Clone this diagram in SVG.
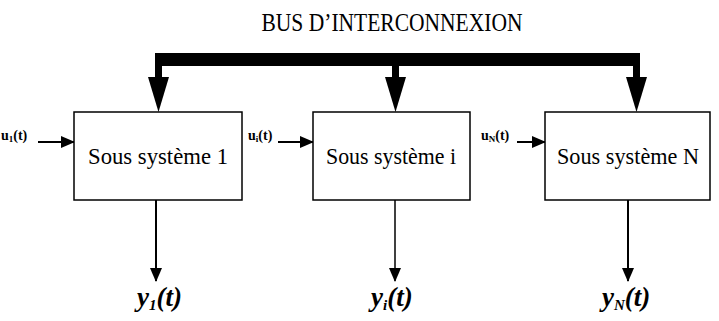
<svg xmlns="http://www.w3.org/2000/svg" width="719" height="321" viewBox="0 0 719 321">
<style>
.box{fill:#fff;stroke:#000;stroke-width:1.5}
.lbl{font-family:"Liberation Serif",serif;font-size:23px;fill:#000}
.ttl{font-family:"Liberation Serif",serif;font-size:25px;fill:#000}
.in{font-family:"Liberation Serif",serif;font-size:14px;font-weight:bold;fill:#000}
.isub{font-size:9px}
.out{font-family:"Liberation Serif",serif;font-size:27px;font-weight:bold;font-style:italic;fill:#000}
.sub{font-size:15px}
.ln{stroke:#000;stroke-width:2;fill:none}
</style>
<defs>
<marker id="ah" markerWidth="14" markerHeight="12" refX="13" refY="6" orient="auto" markerUnits="userSpaceOnUse">
<path d="M0,0 L14,6 L0,12 Z" fill="#000"/>
</marker>
</defs>
<rect width="719" height="321" fill="#fff"/>
<text x="392" y="31" text-anchor="middle" class="ttl" textLength="261" lengthAdjust="spacingAndGlyphs">BUS D’INTERCONNEXION</text>
<g id="connectors">
<path d="M156,53 H640 V66 H156 Z" fill="#000"/>
<rect x="155" y="53" width="7" height="26" fill="#000"/>
<path d="M148,77 L169,77 L158.5,112 Z" fill="#000"/>
<rect x="392" y="60" width="7" height="19" fill="#000"/>
<path d="M385,77 L406,77 L395.5,112 Z" fill="#000"/>
<rect x="633" y="60" width="7" height="19" fill="#000"/>
<path d="M626,77 L647,77 L636.5,112 Z" fill="#000"/>
<line class="ln" x1="38" y1="142" x2="74" y2="142" marker-end="url(#ah)"/>
<line class="ln" x1="278" y1="142" x2="313" y2="142" marker-end="url(#ah)"/>
<line class="ln" x1="517" y1="142" x2="545" y2="142" marker-end="url(#ah)"/>
<line class="ln" x1="156" y1="200" x2="156" y2="281" marker-end="url(#ah)"/>
<line x1="395" y1="200" x2="395" y2="281" stroke="#000" stroke-width="1.5" marker-end="url(#ah)"/>
<line class="ln" x1="628" y1="200" x2="628" y2="281" marker-end="url(#ah)"/>
</g>
<g id="node1">
<rect class="box" x="74" y="112" width="168" height="88"/>
<text x="158" y="164" text-anchor="middle" class="lbl" textLength="140" lengthAdjust="spacingAndGlyphs">Sous système 1</text>
</g>
<g id="node2">
<rect class="box" x="313" y="112" width="157" height="88"/>
<text x="391" y="164" text-anchor="middle" class="lbl" textLength="130" lengthAdjust="spacingAndGlyphs">Sous système i</text>
</g>
<g id="node3">
<rect class="box" x="545" y="112" width="165" height="88"/>
<text x="628" y="164" text-anchor="middle" class="lbl" textLength="142" lengthAdjust="spacingAndGlyphs">Sous système N</text>
</g>
<g id="inputs">
<text x="1" y="140" class="in">u<tspan class="isub" dy="2">1</tspan><tspan dy="-2">(t)</tspan></text>
<text x="248" y="140" class="in">u<tspan class="isub" dy="2">i</tspan><tspan dy="-2">(t)</tspan></text>
<text x="481" y="140" class="in">u<tspan class="isub" dy="2">N</tspan><tspan dy="-2">(t)</tspan></text>
</g>
<g id="outputs">
<text x="137" y="306" class="out">y<tspan class="sub" dy="4">1</tspan><tspan dy="-4">(t)</tspan></text>
<text x="371" y="306" class="out">y<tspan class="sub" dy="4">i</tspan><tspan dy="-4">(t)</tspan></text>
<text x="602" y="306" class="out">y<tspan class="sub" dy="4">N</tspan><tspan dy="-4">(t)</tspan></text>
</g>
</svg>
